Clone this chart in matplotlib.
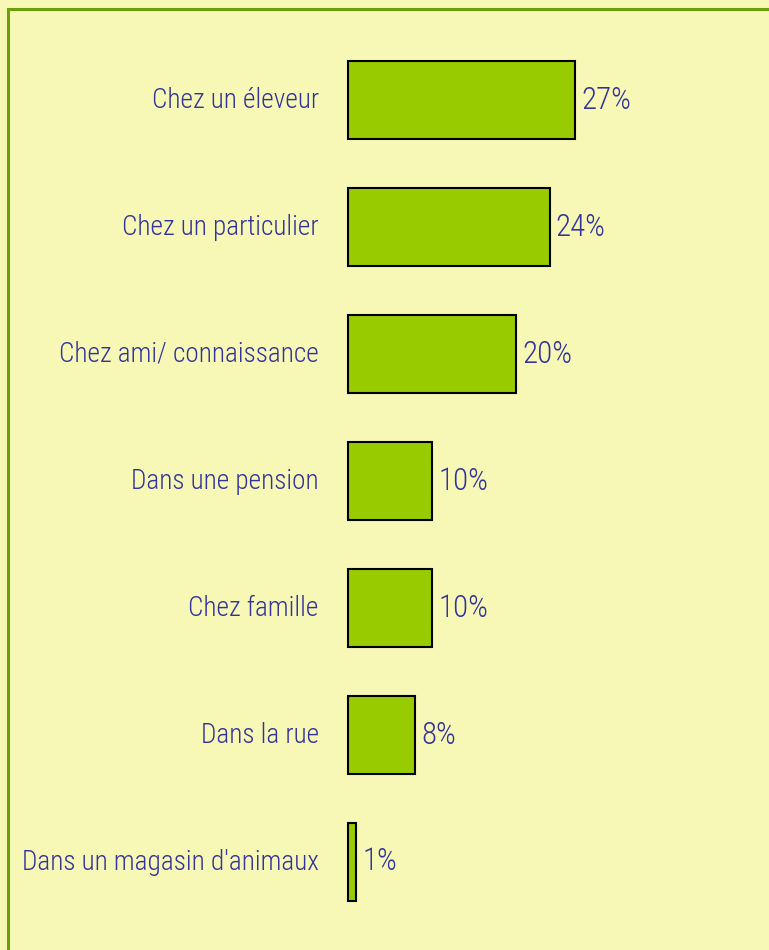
import matplotlib
matplotlib.use("Agg")
import matplotlib.pyplot as plt
from matplotlib.patches import Rectangle
from matplotlib import font_manager

categories = ["Chez un éleveur", "Chez un particulier", "Chez ami/ connaissance",
              "Dans une pension", "Chez famille", "Dans la rue", "Dans un magasin d'animaux"]
values = [27, 24, 20, 10, 10, 8, 1]
value_labels = ["27%", "24%", "20%", "10%", "10%", "8%", "1%"]

W, H = 769, 950
bg = "#F7F8B6"
text_color = "#333399"
bar_color = "#99CC00"
frame_color = "#6E9E0A"

names = {f.name for f in font_manager.fontManager.ttflist}
cands = ["Roboto Condensed", "Open Sans Condensed", "Liberation Sans Narrow",
         "DejaVu Sans Condensed", "Noto Sans", "Roboto", "DejaVu Sans"]
font = [c for c in cands if c in names] or ["DejaVu Sans"]
stretch = "condensed"
weight = "light"

fig = plt.figure(figsize=(W / 100, H / 100), dpi=100)
fig.patch.set_facecolor(bg)

fig.patches.append(Rectangle((8 / W, -0.05), 1.1, (950 - 9) / H + 0.05,
                             transform=fig.transFigure, fill=False,
                             edgecolor=frame_color, linewidth=2.2, zorder=0))

ax = fig.add_axes([348 / W, 24.5 / H, (W - 348) / W, 889 / H])
ax.set_facecolor("none")
px_per_pct = 8.4
ax.set_xlim(0, (W - 348) / px_per_pct)
ax.set_ylim(len(categories) - 0.5, -0.5)
ypos = list(range(len(categories)))
bars = ax.barh(ypos, values, height=0.615, color=bar_color, edgecolor="black", linewidth=1.5)
for b in bars:
    b.set_clip_on(False)

renderer = fig.canvas.get_renderer()
def width_px(s, size):
    t = fig.text(0, 0, s, fontsize=size, family=font, fontstretch=stretch, fontweight=weight)
    w = t.get_window_extent(renderer).width
    t.remove()
    return w

fs = min(28, 20 * 297 / width_px(categories[-1], 20))
fs_val = min(30, 20 * 50 / width_px(value_labels[0], 20))

for y, v, lab, cat in zip(ypos, values, value_labels, categories):
    ax.annotate(lab, xy=(v, y), xytext=(4.5, 0), textcoords="offset points",
                ha="left", va="center", color=text_color, fontsize=fs_val,
                family=font, fontstretch=stretch, fontweight=weight)
    ax.annotate(cat, xy=(0, y), xytext=(-21, 0), textcoords="offset points",
                ha="right", va="center", color=text_color, fontsize=fs,
                family=font, fontstretch=stretch, fontweight=weight,
                annotation_clip=False)
ax.axis("off")

fig.savefig("out.png", dpi=100, facecolor=bg)
